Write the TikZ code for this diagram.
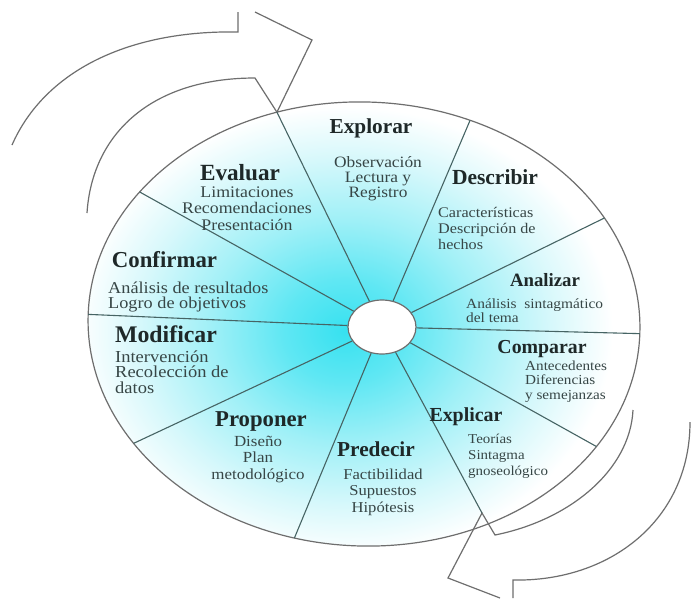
\documentclass[tikz,border=0pt]{standalone}
\usepackage{fontspec}
\setmainfont{Liberation Serif}
\newfontfamily\bodyfnt[FakeStretch=1.1]{Liberation Serif}
\usetikzlibrary{shapes.geometric}
\definecolor{glowA}{RGB}{55,225,240}
\definecolor{glowB}{RGB}{95,231,243}
\definecolor{glowC}{RGB}{160,240,247}
\definecolor{glowD}{RGB}{215,248,251}
\definecolor{titlec}{RGB}{30,40,40}
\definecolor{bodyc}{RGB}{55,70,70}
\definecolor{divc}{RGB}{70,100,100}
\definecolor{linec}{RGB}{110,110,110}
\pgfdeclareradialshading{glow}{\pgfpoint{0bp}{0bp}}{color(0bp)=(glowA); color(5bp)=(glowB); color(11bp)=(glowC); color(17bp)=(glowD); color(22bp)=(white); color(50bp)=(white)}
\begin{document}
\begin{tikzpicture}[x=1pt,y=-1pt,
  ttl/.style={font=\fontsize{#1}{#1}\selectfont\bfseries, text=titlec, inner sep=0pt, anchor=base},
  bdy/.style n args={2}{font=\bodyfnt\fontsize{#1}{#2}\selectfont, text=bodyc, inner sep=0pt},
  wheel/.style={draw=linec, line width=1.2pt},
  divl/.style={draw=divc, line width=1.1pt},
  arr/.style={draw=linec, line width=1.2pt, line join=miter}]
\fill[white] (0,0) rectangle (691,598);
\useasboundingbox (0,0) rectangle (691,598);
% wheel
\begin{scope}[shift={(364,324)}, rotate=-2]
  \begin{scope}
    \clip (0,0) ellipse [x radius=276, y radius=222];
    \shade[shading=glow] (-19,8) ellipse [x radius=300, y radius=250];
  \end{scope}
  \draw[wheel] (0,0) ellipse [x radius=276, y radius=222];
  \coordinate (e1) at (-110:276 and 222);
  \coordinate (e2) at (-69:276 and 222);
  \coordinate (e3) at (-31:276 and 222);
  \coordinate (e4) at (0:276 and 222);
  \coordinate (e5) at (31:276 and 222);
  \coordinate (e7) at (103:276 and 222);
  \coordinate (e8) at (145:276 and 222);
  \coordinate (e9) at (180:276 and 222);
  \coordinate (e10) at (-146:276 and 222);
\end{scope}
% arrows
\coordinate (ta1) at (12,145);
\coordinate (ta2) at (238,32);
\coordinate (ta3) at (238,12);
\coordinate (ta4) at (255,12);
\coordinate (ta5) at (312,40);
\coordinate (ta6) at (87,213);
\coordinate (ta7) at (255,78);
\draw[arr] (ta1) .. controls (45,70) and (130,30) .. (ta2) -- (ta3);
\draw[arr] (ta4) -- (ta5) -- (e1);
\draw[arr] (ta6) .. controls (92,135) and (150,78) .. (ta7) -- (e1);
\coordinate (ba1) at (633,410);
\coordinate (ba2) at (495,535);
\coordinate (ba3) at (482,513);
\coordinate (ba4) at (448,578);
\coordinate (ba5) at (500,598);
\coordinate (ba6) at (690,422);
\coordinate (ba7) at (513,580);
\coordinate (ba8) at (513,598);
\draw[arr] (ba1) .. controls (630,470) and (570,520) .. (ba2) -- (ba3) -- (ba4) -- (ba5);
\draw[arr] (ba6) .. controls (690,520) and (610,582) .. (ba7) -- (ba8);
% hub and dividers
\node[draw=linec, fill=white, ellipse, minimum width=68pt, minimum height=54pt, inner sep=0pt, line width=1.2pt] (hub) at (382,327) {};
\foreach \e in {e1,e2,e3,e4,e5,e7,e8,e9,e10} \draw[divl] (hub) -- (\e);
\draw[divl] (hub) -- (ba3);
% texts (body nodes anchored at the baseline of their last line)
\node[ttl=21.3] (tExplorar) at (371,133) {Explorar};
\node[bdy={15.8}{15}, align=center, anchor=base] (bExplorar) at (378,197) {Observación\\Lectura y\\Registro};
\node[ttl=21.5] (tDescribir) at (495,184) {Describir};
\node[bdy={14.7}{16}, align=left, anchor=base west] (bDescribir) at (438,249) {Características\\Descripción de\\hechos};
\node[ttl=18.8] (tAnalizar) at (545,286) {Analizar};
\node[bdy={14}{12.5}, align=left, anchor=base west] (bAnalizar) at (466,322.5) {Análisis~~sintagmático\\del tema};
\node[ttl=19.8] (tComparar) at (542,353) {Comparar};
\node[bdy={13.8}{14.5}, align=left, anchor=base west] (bComparar) at (525,399) {Antecedentes\\Diferencias\\y semejanzas};
\node[ttl=19.9] (tExplicar) at (466,421) {Explicar};
\node[bdy={13.6}{16}, align=left, anchor=base west] (bExplicar) at (468,475) {Teorías\\Sintagma\\gnoseológico};
\node[ttl=21.3] (tPredecir) at (376,456) {Predecir};
\node[bdy={15.1}{16.5}, align=center, anchor=base] (bPredecir) at (383,512) {Factibilidad\\Supuestos\\Hipótesis};
\node[ttl=22.7] (tProponer) at (261,426) {Proponer};
\node[bdy={15.4}{16.5}, align=center, anchor=base] (bProponer) at (258,479) {Diseño\\Plan\\metodológico};
\node[ttl=23.8] (tModificar) at (166,342) {Modificar};
\node[bdy={16.8}{15.5}, align=left, anchor=base west] (bModificar) at (115,393) {Intervención\\Recolección de\\datos};
\node[ttl=22.8] (tConfirmar) at (164.5,267) {Confirmar};
\node[bdy={16.6}{15}, align=left, anchor=base west] (bConfirmar) at (108,308) {Análisis de resultados\\Logro de objetivos};
\node[ttl=23.2] (tEvaluar) at (240,180) {Evaluar};
\node[bdy={16.2}{16.5}, align=center, anchor=base] (bEvaluar) at (247,230) {Limitaciones\\Recomendaciones\\Presentación};
\end{tikzpicture}
\end{document}
